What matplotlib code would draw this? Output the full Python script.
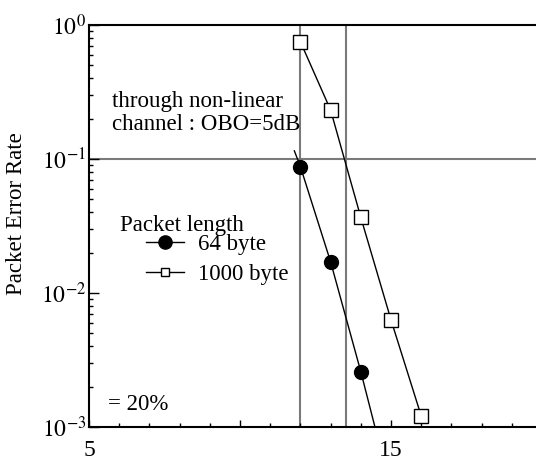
import matplotlib
matplotlib.use("Agg")
import matplotlib.pyplot as plt
from matplotlib.ticker import LogLocator, FixedLocator, NullFormatter

plt.rcParams['font.family'] = ['Liberation Serif', 'DejaVu Serif']
plt.rcParams['mathtext.fontset'] = 'stix'

# Eb/No (dB) and packet error rate
snr_64 = [12, 13, 14]
per_64 = [0.0877, 0.0171, 0.00259]
# the 64 byte curve runs a little past its markers
snr_64_line = [11.8, 12, 13, 14, 15]
per_64_line = [0.115, 0.0877, 0.0171, 0.00259, 0.00034]

snr_1000 = [12, 13, 14, 15, 16]
per_1000 = [0.75, 0.232, 0.0367, 0.0063, 0.00121]

grid_x = [12, 13.5]
grid_y = [0.1]

fig = plt.figure(figsize=(5.36, 4.62), dpi=100)
ax = fig.add_axes([89/536, 35/462, 1 - 89/536, 402/462])

for gx in grid_x:
    ax.axvline(gx, color='#7a7a7a', lw=1.5, zorder=1)
for gy in grid_y:
    ax.axhline(gy, color='#7a7a7a', lw=1.5, zorder=1)

ax.plot(snr_64_line, per_64_line, color='black', lw=1, zorder=2)
ax.plot(snr_64, per_64, ls='none', marker='o', ms=10, color='black', zorder=3)
ax.plot(snr_1000, per_1000, color='black', lw=1, marker='s', ms=10,
        mfc='white', mec='black', mew=1, zorder=3)

ax.set_yscale('log')
ax.set_ylim(1e-3, 1)
ax.set_xlim(5, 5 + 447/30.2)

ax.xaxis.set_major_locator(FixedLocator([5, 10, 15, 20]))
ax.xaxis.set_minor_locator(FixedLocator(range(5, 21)))
ax.set_xticklabels(['5', '', '15', ''])
ax.yaxis.set_major_locator(FixedLocator([1e-3, 1e-2, 1e-1, 1]))
ax.set_yticklabels([r'$10^{-3}$', r'$10^{-2}$', r'$10^{-1}$', r'$10^{0}$'])
ax.yaxis.set_minor_locator(LogLocator(base=10, subs=range(2, 10)))
ax.yaxis.set_minor_formatter(NullFormatter())

ax.tick_params(axis='both', which='major', direction='in', length=7, width=1,
               labelsize=17)
ax.tick_params(axis='both', which='minor', direction='in', length=3, width=1)
ax.tick_params(axis='x', which='major', length=5, pad=9)
ax.tick_params(axis='y', which='major', pad=2)

for s in ['left', 'bottom', 'top']:
    ax.spines[s].set_linewidth(1.5)
ax.spines['right'].set_visible(False)

ax.set_ylabel('Packet Error Rate', fontsize=16.5)
ax.yaxis.set_label_coords(-0.139, 0.53)

ax.text(112/536, 1 - 130/462, 'through non-linear\nchannel : OBO=5dB',
        transform=fig.transFigure, fontsize=16.5, va='baseline', linespacing=1.15)
ax.text(120/536, 1 - 231/462, 'Packet length', transform=fig.transFigure,
        fontsize=16.5, va='baseline')
ax.text(108/536, 1 - 410/462, '= 20%', transform=fig.transFigure,
        fontsize=16.5, va='baseline')

h64, = ax.plot([], [], color='black', lw=1, marker='o', ms=9.5)
h1000, = ax.plot([], [], color='black', lw=1, marker='s', ms=6,
                 mfc='white', mec='black')
ax.legend([h64, h1000], ['64 byte', '1000 byte'], loc='upper left',
          bbox_to_anchor=(146/536, 1 - 234/462), bbox_transform=fig.transFigure,
          frameon=False, fontsize=16.5, handlelength=1.65, handletextpad=0.6,
          labelspacing=0.4, borderpad=0, borderaxespad=0)

fig.savefig('out.png', dpi=100)
